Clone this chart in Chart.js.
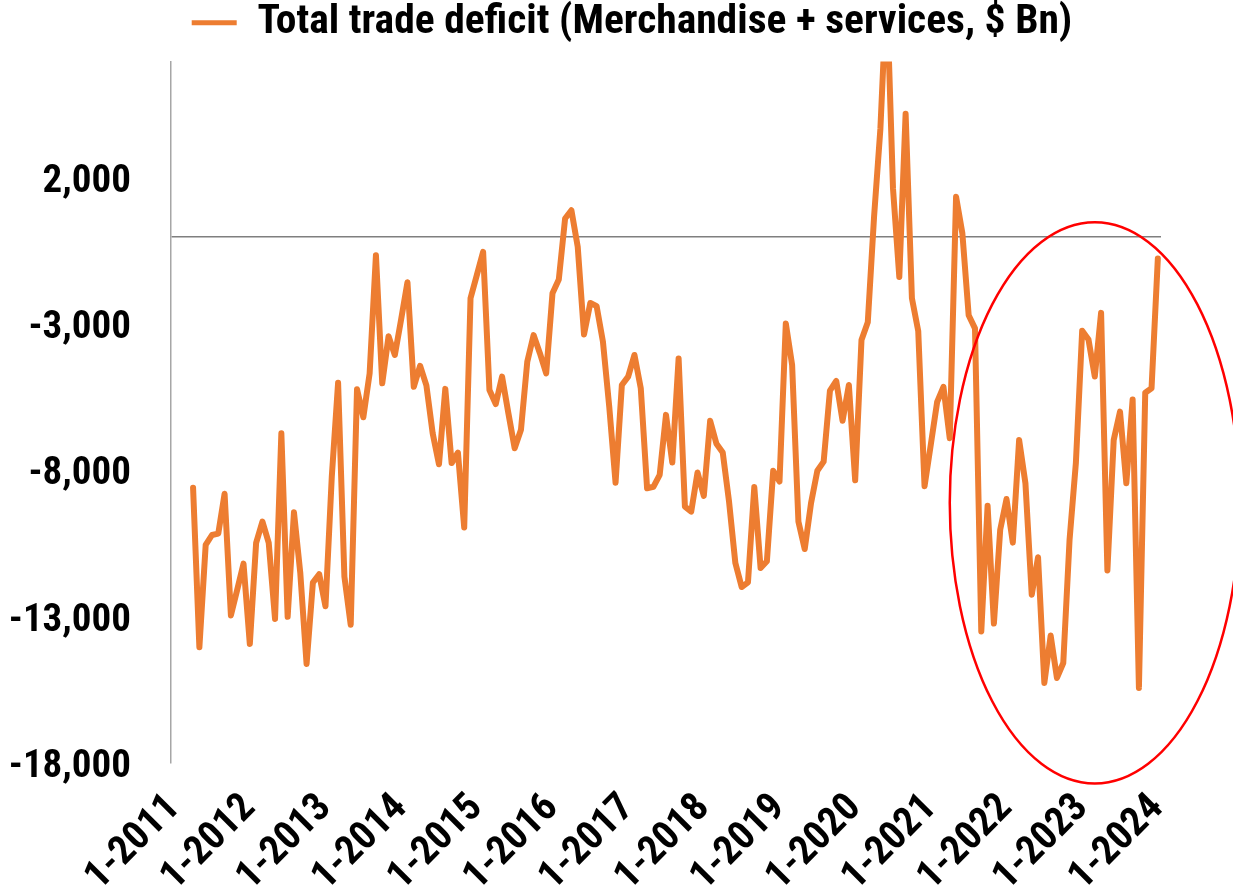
<!DOCTYPE html>
<html>
<head>
<meta charset="utf-8">
<script src="https://cdn.jsdelivr.net/npm/chart.js@4.4.1/dist/chart.umd.min.js"></script>
<style>
html,body{margin:0;padding:0;background:#ffffff;}
canvas{display:block;}
</style>
</head>
<body>
<canvas id="c" width="1233" height="895"></canvas>
<script>
const FONT = "Roboto, 'Liberation Sans', sans-serif";
const FONT_WEIGHT = 'bold condensed';
const seriesName = 'Total trade deficit (Merchandise + services, $ Bn)';

// Monthly values (data begins April 2011)
const deficit2011 = [-8580, -14040, -10540, -10200, -10150, -8790, -12950, -12070, -11180];
const deficit2012 = [-13930, -10470, -9740, -10470, -13070, -6720, -13000, -9420, -11490, -14610, -11830, -11540];
const deficit2013 = [-12640, -8200, -4990, -11620, -13270, -5210, -6170, -4670, -625, -5010, -3400, -4040];
const deficit2014 = [-2820, -1550, -5130, -4410, -5080, -6720, -7780, -5200, -7740, -7380, -9940, -2100];
const deficit2015 = [-1310, -510, -5240, -5720, -4780, -6030, -7230, -6600, -4270, -3360, -3980, -4670];
const deficit2016 = [-1930, -1460, 630, 910, -340, -3340, -2260, -2370, -3590, -5810, -8410, -5070];
const deficit2017 = [-4780, -4040, -5180, -8600, -8550, -8140, -6090, -7720, -4160, -9230, -9400, -8060];
const deficit2018 = [-8860, -6290, -7080, -7380, -9060, -11160, -11980, -11820, -8560, -11330, -11100, -8000];
const deficit2019 = [-8370, -2960, -4380, -9740, -10680, -9110, -8000, -7690, -5260, -4930, -6290, -5070];
const deficit2020 = [-8330, -3530, -2920, 700, 3700, 8500, 1650, -1370, 4210, -2100, -3220, -8530];
const deficit2021 = [-7100, -5650, -5130, -6890, 1370, 120, -2680, -3130, -13500, -9200, -13230, -10020];
const deficit2022 = [-8970, -10460, -6950, -8430, -12240, -10960, -15260, -13640, -15090, -14580, -10360, -7740];
const deficit2023 = [-3210, -3510, -4780, -2600, -11410, -6950, -5980, -8430, -5560, -15430, -5330, -5180];
const deficit2024 = [-740];

const xTickLabels = ['1-2011','1-2012','1-2013','1-2014','1-2015','1-2016','1-2017','1-2018','1-2019','1-2020','1-2021','1-2022','1-2023','1-2024'];
const yTickValues = [-18000, -13000, -8000, -3000, 2000];
const yMin = -18000, yMax = 6000;
const missingMonths2011 = 3; // Jan-Mar 2011 have no value

// Category axis: every month Jan 2011 .. Jan 2024
const categories = [];
for (let y = 2011; y <= 2024; y++) {
  for (let m = 1; m <= 12; m++) {
    if (y === 2024 && m > 1) break;
    categories.push(m + '-' + y);
  }
}
const seriesValues = [].concat(
  new Array(missingMonths2011).fill(null),
  deficit2011, deficit2012, deficit2013, deficit2014, deficit2015, deficit2016,
  deficit2017, deficit2018, deficit2019, deficit2020, deficit2021, deficit2022,
  deficit2023, deficit2024
);

// Red ellipse highlight (in data terms)
const highlight = {centerMonth: '3-2023', centerValue: -9100, radiusMonths: 23, radiusValue: 9600};

const ORANGE = '#ED7D31';

const ellipsePlugin = {
  id: 'ellipse',
  afterDraw(chart) {
    const xs = chart.scales.x, ys = chart.scales.y;
    const ci = categories.indexOf(highlight.centerMonth);
    const cx = xs.getPixelForValue(ci);
    const cy = ys.getPixelForValue(highlight.centerValue);
    const rx = Math.abs(xs.getPixelForValue(ci + highlight.radiusMonths) - cx);
    const ry = Math.abs(ys.getPixelForValue(highlight.centerValue + highlight.radiusValue) - cy);
    const ctx = chart.ctx;
    ctx.save();
    ctx.beginPath();
    ctx.ellipse(cx, cy, rx, ry, 0, 0, Math.PI * 2);
    ctx.strokeStyle = '#FF0000';
    ctx.lineWidth = 2.5;
    ctx.stroke();
    ctx.restore();
  }
};

new Chart(document.getElementById('c'), {
  type: 'line',
  data: {
    labels: categories,
    datasets: [{
      label: seriesName,
      data: seriesValues,
      borderColor: ORANGE,
      backgroundColor: ORANGE,
      borderWidth: 6,
      borderJoinStyle: 'round',
      borderCapStyle: 'round',
      pointRadius: 0,
      tension: 0,
      spanGaps: false,
      clip: 0
    }]
  },
  options: {
    responsive: false,
    devicePixelRatio: 1,
    animation: false,
    layout: {padding: {left: 0, right: -31, top: 0, bottom: 0}},
    plugins: {
      tooltip: {enabled: false},
      legend: {
        display: true,
        position: 'top',
        weight: 3000,
        labels: {
          color: '#000000',
          font: {family: FONT, size: 41.5, weight: FONT_WEIGHT},
          boxWidth: 45,
          boxHeight: 5,
          padding: 2,
          generateLabels(chart) {
            const items = Chart.defaults.plugins.legend.labels.generateLabels(chart);
            items.forEach(it => { it.lineWidth = 0; it.fillStyle = ORANGE; it.strokeStyle = ORANGE; });
            return items;
          }
        }
      },
      subtitle: {
        display: true,
        text: '',
        padding: 0,
        font: {size: 8, lineHeight: 1}
      }
    },
    scales: {
      x: {
        type: 'category',
        offset: true,
        grid: {display: false},
        border: {display: false},
        afterBuildTicks(scale) {
          scale.ticks = scale.ticks.filter(t => xTickLabels.includes(categories[t.value]));
        },
        afterFit(scale) {
          scale.height = 132;
          scale.paddingLeft = 0;
          scale.paddingRight = 72;
        },
        ticks: {
          autoSkip: false,
          minRotation: 45,
          maxRotation: 45,
          padding: 14,
          color: '#000000',
          font: {family: FONT, size: 40, weight: FONT_WEIGHT},
          callback(value) { return categories[value]; }
        }
      },
      y: {
        type: 'linear',
        min: yMin,
        max: yMax,
        afterBuildTicks(scale) {
          scale.ticks = yTickValues.concat([0]).sort((a, b) => a - b).map(v => ({value: v}));
        },
        afterFit(scale) {
          scale.width = 171;
          scale.paddingTop = 0;
          scale.paddingBottom = 0;
        },
        grid: {
          display: true,
          drawTicks: false,
          lineWidth: 1.5,
          color(ctx) { return ctx.tick && ctx.tick.value === 0 ? '#7F7F7F' : 'rgba(0,0,0,0)'; }
        },
        border: {display: true, color: '#A6A6A6', width: 1.5},
        ticks: {
          padding: 40,
          labelOffset: 4,
          color: '#000000',
          font: {family: FONT, size: 39, weight: FONT_WEIGHT},
          callback(value) {
            if (!yTickValues.includes(value)) return '';
            return value.toLocaleString('en-US');
          }
        }
      }
    }
  },
  plugins: [ellipsePlugin]
});
</script>
</body>
</html>
